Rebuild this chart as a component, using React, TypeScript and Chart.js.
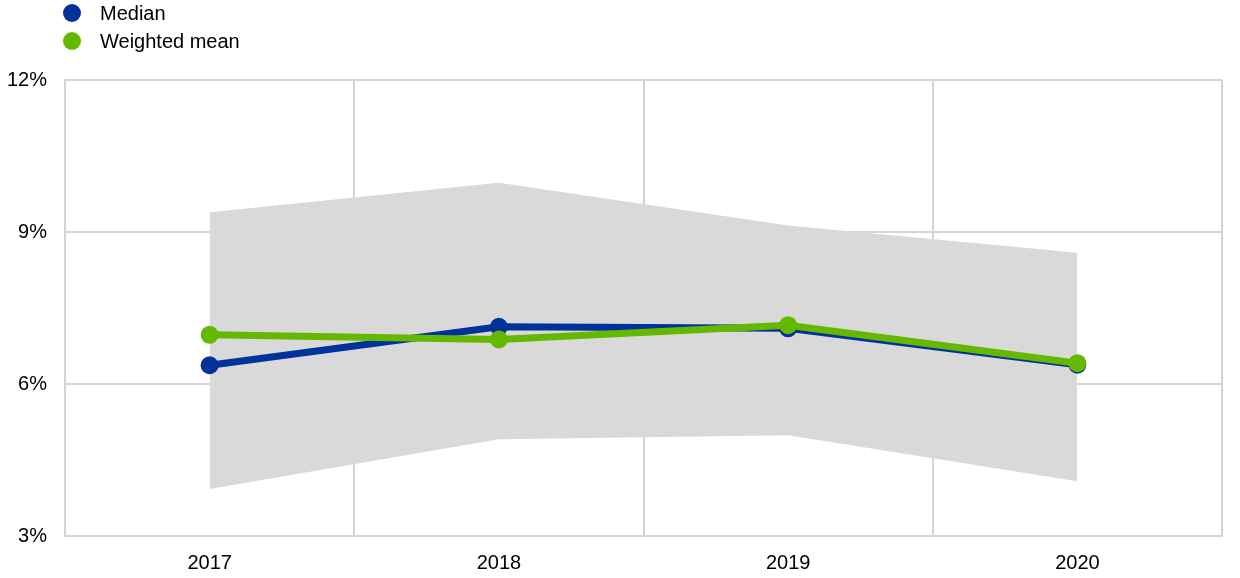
import React, { useEffect, useRef } from "react";
import { Chart, registerables } from "chart.js";

Chart.register(...registerables);

const years = ["2017", "2018", "2019", "2020"];
const median = [6.37, 7.13, 7.1, 6.38];
const weightedMean = [6.97, 6.88, 7.16, 6.41];
const bandUpper = [9.39, 9.97, 9.13, 8.59];
const bandLower = [3.93, 4.91, 4.99, 4.08];
const yTicks = [3, 6, 9, 12];

const BLUE = "#003299";
const GREEN = "#65b800";
const BAND = "#d9d9d9";
const GRID = "#d4d4d4";
const FONT = "'Liberation Sans', Arial, sans-serif";

export default function App() {
  const ref = useRef<HTMLCanvasElement | null>(null);

  useEffect(() => {
    if (!ref.current) return;
    const chart = new Chart(ref.current, {
      type: "line",
      data: {
        labels: years,
        datasets: [
          {
            label: "Weighted mean",
            data: weightedMean,
            borderColor: GREEN,
            backgroundColor: GREEN,
            borderWidth: 7,
            pointRadius: 9,
            pointBorderWidth: 0,
            pointBackgroundColor: GREEN,
            fill: false,
            tension: 0,
          },
          {
            label: "Median",
            data: median,
            borderColor: BLUE,
            backgroundColor: BLUE,
            borderWidth: 7,
            pointRadius: 9,
            pointBorderWidth: 0,
            pointBackgroundColor: BLUE,
            fill: false,
            tension: 0,
          },
          {
            label: "upper",
            data: bandUpper,
            borderWidth: 0,
            borderColor: "rgba(0,0,0,0)",
            pointRadius: 0,
            backgroundColor: BAND,
            fill: "+1",
            tension: 0,
          },
          {
            label: "lower",
            data: bandLower,
            borderWidth: 0,
            borderColor: "rgba(0,0,0,0)",
            pointRadius: 0,
            backgroundColor: BAND,
            fill: false,
            tension: 0,
          },
        ],
      },
      options: {
        animation: false,
        responsive: false,
        maintainAspectRatio: false,
        layout: { padding: { top: 80, right: 18, left: 0, bottom: 0 } },
        plugins: {
          legend: { display: false },
          tooltip: { enabled: false },
        },
        scales: {
          x: {
            offset: true,
            grid: { offset: true, color: GRID, lineWidth: 2, drawTicks: false },
            border: { color: GRID, width: 2 },
            ticks: { color: "#000", font: { family: FONT, size: 20 }, padding: 15 },
            afterFit: (s: any) => {
              s.height = 42;
            },
          },
          y: {
            min: 3,
            max: 12,
            afterBuildTicks: (s: any) => {
              s.ticks = yTicks.map((v) => ({ value: v }));
            },
            grid: { color: GRID, lineWidth: 2, drawTicks: false },
            border: { color: GRID, width: 2 },
            ticks: {
              color: "#000",
              font: { family: FONT, size: 20 },
              padding: 18,
              callback: (v: any) => v + "%",
            },
            afterFit: (s: any) => {
              s.width = 65;
            },
          },
        },
      },
    });
    return () => chart.destroy();
  }, []);

  const legendItem = (color: string, text: string, top: number) => (
    <div
      style={{
        position: "absolute",
        left: 63,
        top: top - 12,
        height: 24,
        display: "flex",
        alignItems: "center",
        fontFamily: FONT,
        fontSize: 20,
        color: "#000",
        whiteSpace: "nowrap",
      }}
    >
      <span
        style={{
          display: "inline-block",
          width: 18,
          height: 18,
          borderRadius: 9,
          background: color,
          marginRight: 19,
        }}
      />
      {text}
    </div>
  );

  return (
    <div style={{ position: "absolute", left: 0, top: 0, width: 1240, height: 578, background: "#fff" }}>
      <canvas ref={ref} width={1240} height={578} style={{ display: "block" }} />
      {legendItem(BLUE, "Median", 13)}
      {legendItem(GREEN, "Weighted mean", 41)}
    </div>
  );
}
